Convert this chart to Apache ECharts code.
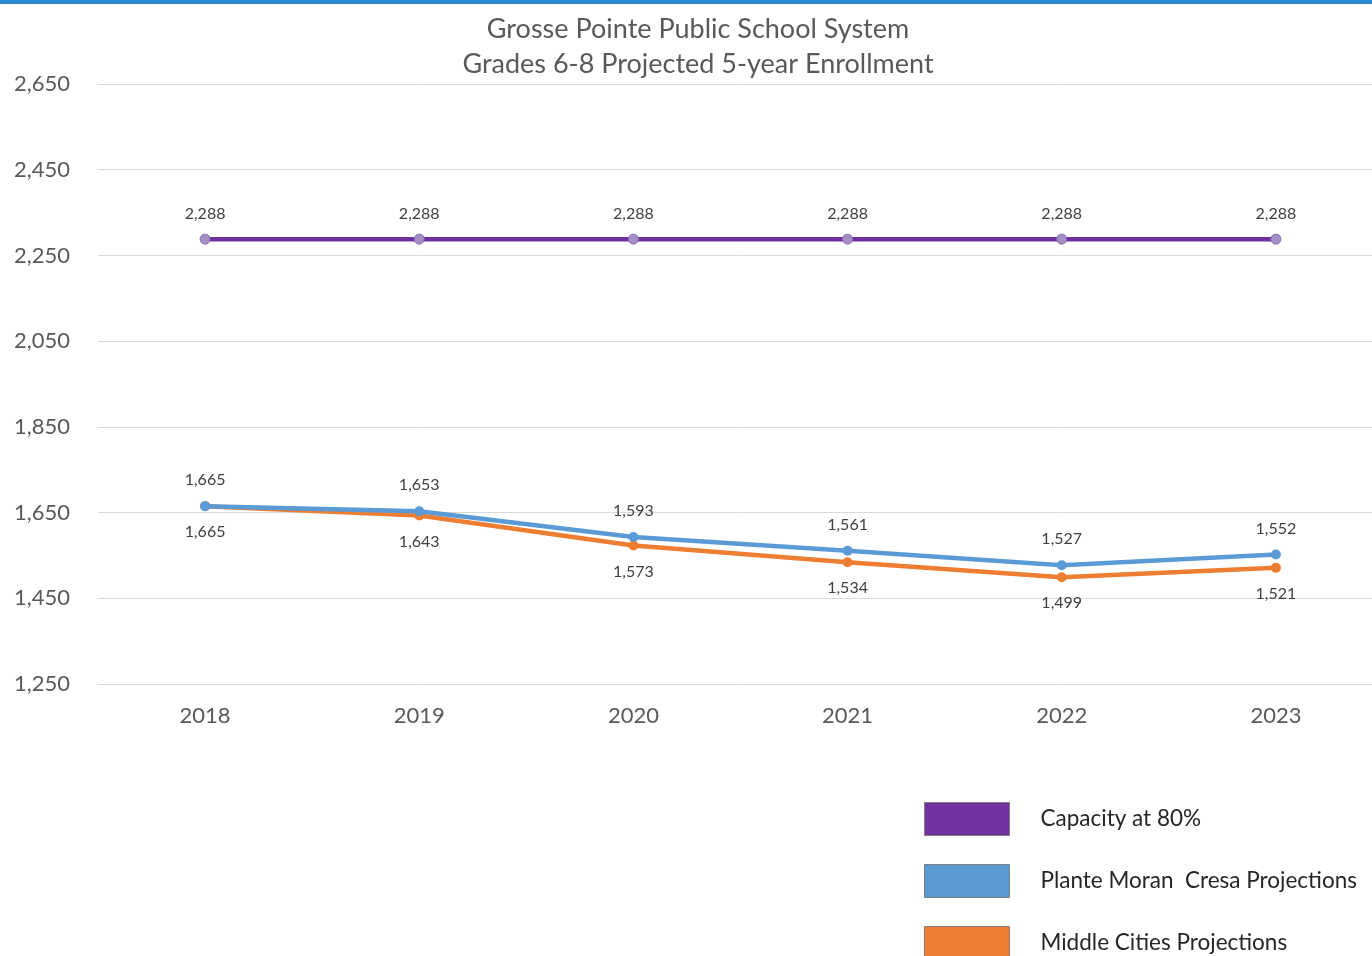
<!DOCTYPE html>
<html>
<head>
<meta charset="utf-8">
<script src="https://cdn.jsdelivr.net/npm/echarts@6/dist/echarts.min.js"></script>
<style>
  html, body { margin: 0; padding: 0; background: #fff; overflow: hidden; width: 1372px; height: 956px; }
  #chart { width: 1383px; height: 956px; }
</style>
</head>
<body>
<div id="chart"></div>
<script>
const years = ['2018', '2019', '2020', '2021', '2022', '2023'];
const capacity80 = [2288, 2288, 2288, 2288, 2288, 2288];
const planteMoran = [1665, 1653, 1593, 1561, 1527, 1552];
const middleCities = [1665, 1643, 1573, 1534, 1499, 1521];
const titleLines = ['Grosse Pointe Public School System', 'Grades 6-8 Projected 5-year Enrollment'];
const seriesNames = ['Capacity at 80%', 'Plante Moran  Cresa Projections', 'Middle Cities Projections'];

const FONT = 'Lato';
const fmt = v => v.toLocaleString('en-US');
const labelStyle = { color: '#404040', fontSize: 16, fontFamily: FONT };

const chart = echarts.init(document.getElementById('chart'), null, { renderer: 'canvas' });
chart.setOption({
  animation: false,
  backgroundColor: '#ffffff',
  graphic: [{
    type: 'rect', left: 0, top: 0,
    shape: { width: 1383, height: 4 },
    style: { fill: '#2b88d8' }, silent: true
  }],
  title: {
    text: titleLines.join('\n'),
    left: 698, top: 12, textAlign: 'center',
    padding: 0,
    textStyle: { color: '#595959', fontSize: 27, fontWeight: 'normal', fontFamily: FONT, lineHeight: 35 }
  },
  grid: { left: 98, right: 0, top: 84, bottom: 272, containLabel: false },
  xAxis: {
    type: 'category', data: years, boundaryGap: true,
    axisLine: { show: false }, axisTick: { show: false },
    axisLabel: { color: '#595959', fontSize: 22, fontFamily: FONT, margin: 21 }
  },
  yAxis: {
    type: 'value', min: 1250, max: 2650, interval: 200,
    axisLine: { show: false }, axisTick: { show: false },
    axisLabel: { color: '#595959', fontSize: 22, fontFamily: FONT, margin: 28, formatter: v => fmt(v) },
    splitLine: { lineStyle: { color: '#d9d9d9', width: 1 } }
  },
  legend: {
    orient: 'vertical', left: 924, top: 802, height: 200, padding: 0,
    itemWidth: 85, itemHeight: 33, itemGap: 28,
    textStyle: { color: '#262626', fontSize: 22.5, fontFamily: FONT, padding: [0, 0, 0, 26] },
    data: [
      { name: seriesNames[0], icon: 'rect', itemStyle: { color: '#7030a0', borderColor: '#7f7f7f', borderWidth: 1 } },
      { name: seriesNames[1], icon: 'rect', itemStyle: { color: '#5b9bd5', borderColor: '#7f7f7f', borderWidth: 1 } },
      { name: seriesNames[2], icon: 'rect', itemStyle: { color: '#ed7d31', borderColor: '#7f7f7f', borderWidth: 1 } }
    ]
  },
  series: [
    {
      name: seriesNames[0], type: 'line', data: capacity80, z: 2,
      symbol: 'circle', symbolSize: 10,
      lineStyle: { color: '#7030a0', width: 4.5 },
      itemStyle: { color: '#a38fc4', borderColor: '#8a6cb2', borderWidth: 1 },
      label: { show: true, position: 'top', distance: 12, formatter: p => fmt(p.value), ...labelStyle }
    },
    {
      name: seriesNames[2], type: 'line', data: middleCities, z: 2,
      symbol: 'circle', symbolSize: 10,
      lineStyle: { color: '#ed7d31', width: 4.5 },
      itemStyle: { color: '#ed7d31' },
      label: { show: true, position: 'bottom', distance: 13, formatter: p => fmt(p.value), ...labelStyle }
    },
    {
      name: seriesNames[1], type: 'line', data: planteMoran, z: 3,
      symbol: 'circle', symbolSize: 10,
      lineStyle: { color: '#5b9bd5', width: 4.5 },
      itemStyle: { color: '#5b9bd5' },
      label: { show: true, position: 'top', distance: 13, formatter: p => fmt(p.value), ...labelStyle }
    }
  ]
});
</script>
</body>
</html>
